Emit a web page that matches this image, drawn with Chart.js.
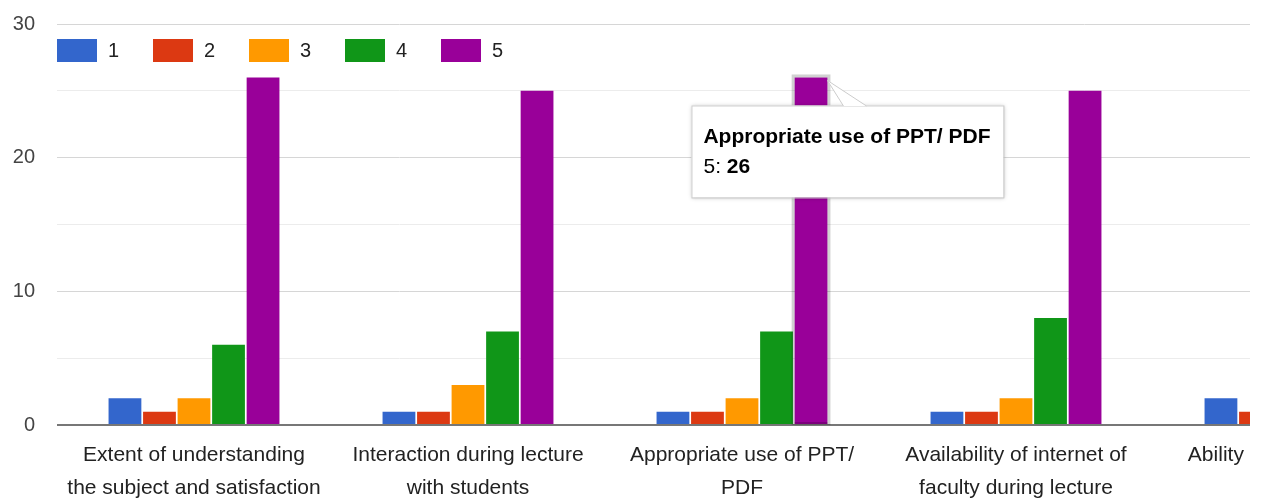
<!DOCTYPE html>
<html>
<head>
<meta charset="utf-8">
<script src="https://cdn.jsdelivr.net/npm/chart.js@4.4.1/dist/chart.umd.min.js"></script>
<style>
  html, body { margin: 0; padding: 0; background: #fff; overflow: hidden; }
  #wrap { width: 1250px; height: 500px; overflow: hidden; }
  #chart { display: block; }
</style>
</head>
<body>
<div id="wrap"><canvas id="chart" width="1440" height="500"></canvas></div>
<script>
// ===== DATA =====
const categories = [
  ['Extent of understanding', 'the subject and satisfaction'],
  ['Interaction during lecture', 'with students'],
  ['Appropriate use of PPT/', 'PDF'],
  ['Availability of internet of', 'faculty during lecture'],
  ['Ability of the faculty to', 'explain']
];
const seriesNames = ['1', '2', '3', '4', '5'];
const rating1 = [2, 1, 1, 1, 2];
const rating2 = [1, 1, 1, 1, 1];
const rating3 = [2, 3, 2, 2, null];
const rating4 = [6, 7, 7, 8, null];
const rating5 = [26, 25, 26, 25, null];
const seriesColors = ['#3366cc', '#dc3912', '#ff9900', '#109618', '#990099'];
const yMax = 30;

// bar that the tooltip points at
const tipCat = 2, tipSeries = 4;

const FONT = "'Liberation Sans', Arial, sans-serif";

// legend + hover outline + tooltip, drawn on top
const overlay = {
  id: 'overlay',
  afterDraw(chart) {
    const ctx = chart.ctx;
    ctx.save();

    // legend
    let x = 57;
    chart.data.datasets.forEach(ds => {
      ctx.fillStyle = ds.backgroundColor;
      ctx.fillRect(x, 39, 40, 23);
      ctx.fillStyle = '#222';
      ctx.font = '20px ' + FONT;
      ctx.textBaseline = 'middle';
      ctx.textAlign = 'left';
      ctx.fillText(ds.label, x + 51, 51);
      x += 96;
    });

    // hovered bar outline
    const bar = chart.getDatasetMeta(tipSeries).data[tipCat];
    const bw = bar.width;
    const bl = bar.x - bw / 2, br = bar.x + bw / 2;
    ctx.strokeStyle = 'rgba(0,0,0,0.18)';
    ctx.lineWidth = 3;
    ctx.strokeRect(bl - 1.5, bar.y - 1.5, bw + 3, bar.base - bar.y + 1);

    // tooltip box
    const tx = br - 136, ty = bar.y + 28, tw = 312, th = 92;
    ctx.shadowColor = 'rgba(0,0,0,0.25)';
    ctx.shadowBlur = 4;
    ctx.shadowOffsetX = 1;
    ctx.shadowOffsetY = 1;
    ctx.fillStyle = '#fff';
    ctx.fillRect(tx, ty, tw, th);
    ctx.shadowColor = 'transparent';
    ctx.strokeStyle = '#ccc';
    ctx.lineWidth = 1;
    ctx.strokeRect(tx + 0.5, ty + 0.5, tw, th);

    // pointer
    ctx.beginPath();
    ctx.moveTo(br + 16, ty + 0.5);
    ctx.lineTo(br, bar.y + 3);
    ctx.lineTo(br + 39, ty + 0.5);
    ctx.closePath();
    ctx.fillStyle = '#fff';
    ctx.fill();
    ctx.beginPath();
    ctx.moveTo(br + 16, ty + 0.5);
    ctx.lineTo(br, bar.y + 3);
    ctx.lineTo(br + 39, ty + 0.5);
    ctx.strokeStyle = '#ccc';
    ctx.stroke();

    // tooltip text
    const title = chart.data.labels[tipCat].join(' ');
    const value = chart.data.datasets[tipSeries].data[tipCat];
    ctx.fillStyle = '#000';
    ctx.textBaseline = 'alphabetic';
    ctx.font = 'bold 21px ' + FONT;
    ctx.fillText(title, tx + 12, ty + 38);
    ctx.font = '21px ' + FONT;
    const pre = chart.data.datasets[tipSeries].label + ': ';
    ctx.fillText(pre, tx + 12, ty + 68);
    const pw = ctx.measureText(pre).width;
    ctx.font = 'bold 21px ' + FONT;
    ctx.fillText(String(value), tx + 12 + pw, ty + 68);

    ctx.restore();
  }
};

const allData = [rating1, rating2, rating3, rating4, rating5];

new Chart(document.getElementById('chart'), {
  type: 'bar',
  data: {
    labels: categories,
    datasets: allData.map((d, i) => ({
      label: seriesNames[i],
      data: d,
      backgroundColor: seriesColors[i],
      categoryPercentage: 0.63,
      barPercentage: 0.95
    }))
  },
  options: {
    responsive: false,
    animation: false,
    devicePixelRatio: 1,
    layout: { padding: { top: 24, right: 13, left: 0, bottom: 0 } },
    plugins: {
      legend: { display: false },
      tooltip: { enabled: false }
    },
    scales: {
      x: {
        afterFit: s => { s.height = 75; },
        grid: { display: false, drawTicks: false },
        border: { display: false },
        ticks: {
          color: '#222',
          font: { family: FONT, size: 21, lineHeight: 1.55 },
          padding: 14,
          maxRotation: 0,
          autoSkip: false
        }
      },
      y: {
        min: 0,
        max: yMax,
        afterFit: s => { s.width = 57; s.paddingTop = 0; s.paddingBottom = 0; },
        border: { display: false },
        grid: {
          drawTicks: false,
          color: c => c.tick.value === 0 ? '#777' : (c.tick.value % 10 === 0 ? '#d6d6d6' : '#ececec'),
          lineWidth: c => c.tick.value === 0 ? 2 : 1
        },
        ticks: {
          stepSize: 5,
          color: '#444',
          font: { family: FONT, size: 20 },
          padding: 22,
          callback: v => v % 10 === 0 ? v : ''
        }
      }
    }
  },
  plugins: [overlay]
});
</script>
</body>
</html>
